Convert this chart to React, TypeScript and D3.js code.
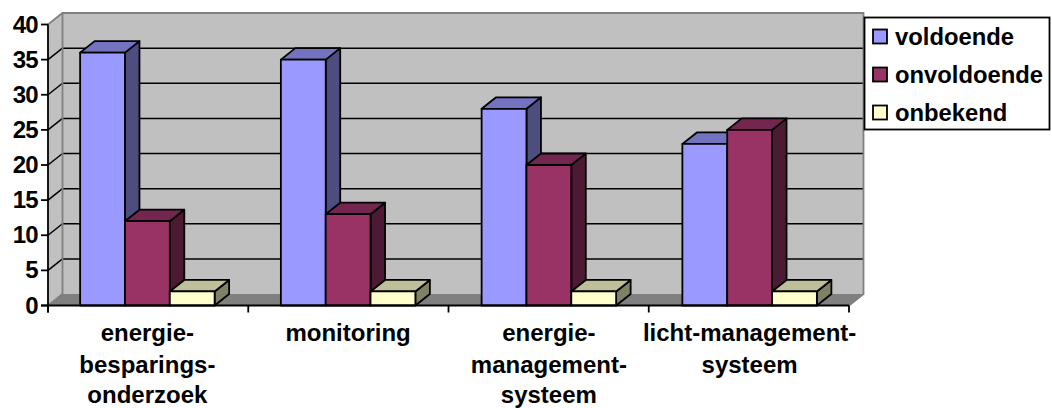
import React from "react";
import * as d3 from "d3";

const categories = ["energie-besparings-onderzoek", "monitoring", "energie-management-systeem", "licht-management-systeem"];
const categoryLines = [
  ["energie-", "besparings-", "onderzoek"],
  ["monitoring"],
  ["energie-", "management-", "systeem"],
  ["licht-management-", "systeem"],
];
const seriesNames = ["voldoende", "onvoldoende", "onbekend"];
const voldoende = [36, 35, 28, 23];
const onvoldoende = [12, 13, 20, 25];
const onbekend = [2, 2, 2, 2];
const seriesValues = [voldoende, onvoldoende, onbekend];
const yTicks = [0, 5, 10, 15, 20, 25, 30, 35, 40];
const front = ["#9999ff", "#993366", "#ffffcc"];
const top = ["#7373bf", "#732650", "#bfbf99"];
const side = ["#4d4d80", "#4d1a33", "#808066"];
const lineBaselines = [341, 373, 403];

const W = 1052, H = 408;
const DX = 14.5, DY = 11.5;
const x0 = d3.scaleBand<string>().domain(categories).range([48, 849]).paddingInner(0.33).paddingOuter(0.16);
const x1 = d3.scaleBand<string>().domain(seriesNames).range([0, x0.bandwidth()]);
const y = d3.scaleLinear().domain([0, 40]).range([305.5, 24.5]);
const font = "'Liberation Sans', Arial, sans-serif";
const pts = (p: number[][]) => p.map((q) => q.join(",")).join(" ");

export default function App() {
  const [xL, xR] = [48, 849];
  const yB = y(0), yT = y(40);
  return (
    <svg width={W} height={H} style={{ position: "absolute", left: 0, top: 0, background: "#fff" }} fontFamily={font} fontWeight="bold">
      {/* walls */}
      <polygon points={pts([[xL + DX, yT - DY], [xR + DX, yT - DY], [xR + DX, yB - DY], [xL + DX, yB - DY]])} fill="#c0c0c0" />
      <polygon points={pts([[xL, yT], [xL + DX, yT - DY], [xL + DX, yB - DY], [xL, yB]])} fill="#c0c0c0" />
      <polygon points={pts([[xL, yB], [xL + DX, yB - DY], [xR + DX, yB - DY], [xR, yB]])} fill="#808080" />
      {yTicks.slice(1, -1).map((t) => (
        <g key={t} stroke="#000" strokeWidth={1.5} fill="none">
          <line x1={xL + DX} x2={xR + DX} y1={y(t) - DY} y2={y(t) - DY} />
          <line x1={xL} x2={xL + DX} y1={y(t)} y2={y(t) - DY} />
        </g>
      ))}
      <polyline points={pts([[xL, yT], [xL + DX, yT - DY], [xR + DX, yT - DY], [xR + DX, yB - DY], [xR, yB]])} fill="none" stroke="#808080" strokeWidth={1.8} />
      <line x1={xL + DX} x2={xL + DX} y1={yT - DY} y2={yB - DY} stroke="#808080" strokeWidth={1.8} />
      <line x1={xL} x2={xL + DX} y1={yB} y2={yB - DY} stroke="#808080" strokeWidth={1.8} />

      {/* bars */}
      <g stroke="#000" strokeWidth={1.8} strokeLinejoin="round">
        {categories.map((c, i) =>
          seriesNames.map((s, k) => {
            const a = x0(c)! + x1(s)!;
            const b = a + x1.bandwidth();
            const v = y(seriesValues[k][i]);
            return (
              <g key={s}>
                <polygon points={pts([[b, v], [b + DX, v - DY], [b + DX, yB - DY], [b, yB]])} fill={side[k]} />
                <polygon points={pts([[a, v], [a + DX, v - DY], [b + DX, v - DY], [b, v]])} fill={top[k]} />
                <rect x={a} y={v} width={b - a} height={yB - v} fill={front[k]} />
              </g>
            );
          })
        )}
      </g>

      {/* axes */}
      <g stroke="#000" strokeWidth={1.8}>
        <line x1={xL} x2={xL} y1={yT} y2={yB + 7} />
        <line x1={xL - 7} x2={xR} y1={yB} y2={yB} />
        {yTicks.map((t) => <line key={t} x1={xL - 7} x2={xL} y1={y(t)} y2={y(t)} />)}
        {d3.range(5).map((i) => {
          const px = xL + (i * (xR - xL)) / 4;
          return <line key={i} x1={px} x2={px} y1={yB} y2={yB + 7} />;
        })}
      </g>
      {yTicks.map((t) => (
        <text key={t} x={37.5} y={y(t) + 8} textAnchor="end" fontSize={24} letterSpacing={-1} fill="#000">{t}</text>
      ))}
      {categories.map((c, i) =>
        categoryLines[i].map((l, j) => (
          <text key={l} x={x0(c)! + x0.bandwidth() / 2} y={lineBaselines[j]} textAnchor="middle" fontSize={24} fill="#000">{l}</text>
        ))
      )}

      {/* legend */}
      <rect x={864.5} y={17.5} width={185} height={112} fill="#fff" stroke="#000" strokeWidth={1.8} />
      {seriesNames.map((s, k) => (
        <g key={s}>
          <rect x={873} y={29.5 + k * 38} width={14} height={14} fill={front[k]} stroke="#000" strokeWidth={1.8} />
          <text x={895} y={45 + k * 38} fontSize={23.8} fill="#000">{s}</text>
        </g>
      ))}
    </svg>
  );
}
